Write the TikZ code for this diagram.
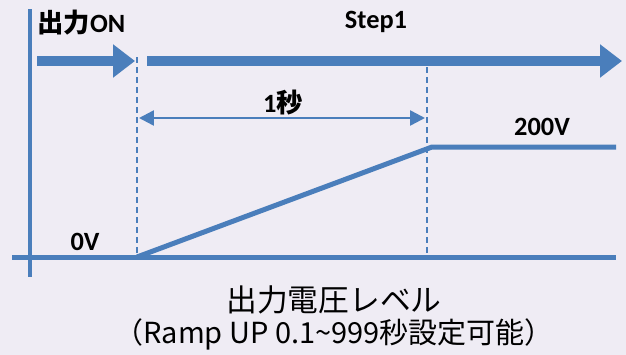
\documentclass[tikz,border=0pt]{standalone}
\usepackage{fontspec}
\setmainfont{Carlito}
\newfontfamily\jp{Noto Sans CJK JP}
\usetikzlibrary{arrows.meta}
\usetikzlibrary{positioning}
\definecolor{lineblue}{RGB}{74,126,187}
\definecolor{bglav}{RGB}{239,236,244}

\begin{document}
\begin{tikzpicture}[x=0.02cm,y=-0.02cm,
    axis/.style={draw=lineblue,line width=0.1cm},
    marker/.style={draw=lineblue,line width=0.04cm,dash pattern=on 0.12cm off 0.08cm},
    bigarrow/.style={draw=lineblue,line width=0.2cm,-{Triangle[length=0.44cm,width=0.64cm]}},
    span/.style={draw=lineblue,line width=0.05cm,{Triangle[length=0.3cm,width=0.3cm]}-{Triangle[length=0.3cm,width=0.3cm]}},
    lbl/.style={font=\fontsize{15}{18}\selectfont\bfseries,inner sep=0pt},
    caption/.style={font=\jp\fontsize{17.5}{21}\selectfont,inner sep=0pt}]
    % background
    \fill[bglav] (0,0) rectangle (626,355);
    \useasboundingbox (0,0) rectangle (626,355);
    % points
    \coordinate (ytop) at (30,9);
    \coordinate (ybot) at (30,277);
    \coordinate (xl)   at (12,257);
    \coordinate (xr)   at (616,257);
    \coordinate (t0)   at (137,257);
    \coordinate (t1)   at (432,147);
    \coordinate (hi)   at (616,147);
    \coordinate (m0a)  at (137,57);
    \coordinate (m0b)  at (137,259);
    \coordinate (m1a)  at (427,67);
    \coordinate (m1b)  at (427,257);
    \coordinate (ona)  at (37,61);
    \coordinate (onb)  at (135,61);
    \coordinate (sta)  at (147,61);
    \coordinate (stb)  at (622,61);
    \coordinate (spa)  at (139,118);
    \coordinate (spb)  at (425,118);
    % axes
    \draw[axis] (ytop) -- (ybot);
    \draw[axis] (xl) -- (xr);
    % markers
    \draw[marker] (m0a) -- (m0b);
    \draw[marker] (m1a) -- (m1b);
    % output level
    \draw[axis,line join=round] (t0) -- (t1) -- (hi);
    % output on / step1
    \draw[bigarrow] (ona) -- (onb);
    \draw[bigarrow] (sta) -- (stb);
    \draw[span] (spa) -- (spb);
    % labels
    \node[lbl,anchor=west] (on)   at (37,23)   {{\jp 出力}ON};
    \node[lbl]             (step) at (376,22)  {Step1};
    \node[lbl]             (sec)  at (283,103) {1{\jp 秒}};
    \node[lbl]             (high) at (542,127) {200V};
    \node[lbl]             (low)  at (85,242)  {0V};
    \node[caption]         (cap1) at (334,300) {出力電圧レベル};
    \node[caption,font=\jp\fontsize{16.5}{20}\selectfont]
                           (cap2) at (334,334) {（Ramp UP 0.1\textasciitilde999秒設定可能）};
\end{tikzpicture}
\end{document}
